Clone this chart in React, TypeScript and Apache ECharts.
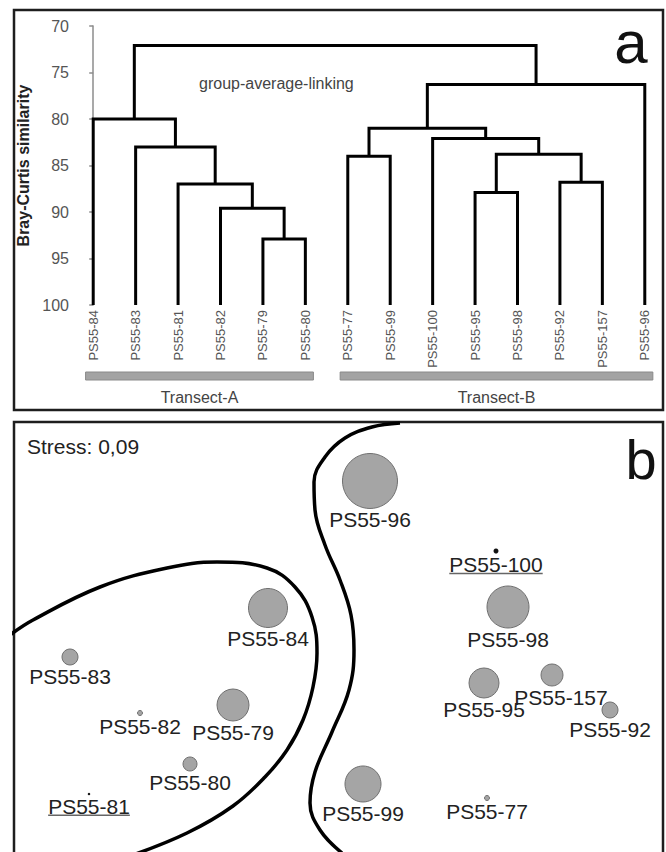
import React, { useEffect, useRef } from "react";
import * as echarts from "echarts";

const FONT = "'Liberation Sans', Arial, Helvetica, sans-serif";

// ---------- Panel a: dendrogram (group-average linking, Bray-Curtis similarity)
const leaves = [
  "PS55-84", "PS55-83", "PS55-81", "PS55-82", "PS55-79", "PS55-80",
  "PS55-77", "PS55-99", "PS55-100", "PS55-95", "PS55-98", "PS55-92", "PS55-157", "PS55-96",
];
// merge i is referred to as "m" + i
const mergeLeft = ["PS55-79", "PS55-82", "PS55-81", "PS55-83", "PS55-84", "PS55-95", "PS55-92", "m5", "PS55-100", "PS55-77", "m9", "m10", "m4"];
const mergeRight = ["PS55-80", "m0", "m1", "m2", "m3", "PS55-98", "PS55-157", "m6", "m7", "PS55-99", "m8", "PS55-96", "m11"];
const mergeSimilarity = [92.9, 89.6, 87.0, 83.0, 80.0, 87.9, 86.8, 83.8, 82.1, 84.0, 81.0, 76.3, 72.1];
const yTicks = { min: 70, max: 100, interval: 5 };
const transectNames = ["Transect-A", "Transect-B"];
const transectFrom = [0, 6];
const transectTo = [5, 13];

// ---------- Panel b: NMDS ordination
const nmdsNames = ["PS55-96", "PS55-100", "PS55-98", "PS55-84", "PS55-83", "PS55-79", "PS55-82", "PS55-80", "PS55-81", "PS55-95", "PS55-157", "PS55-92", "PS55-99", "PS55-77"];
const nmdsX = [0.16, 0.79, 0.85, -0.35, -1.34, -0.525, -0.99, -0.74, -1.245, 0.73, 1.07, 1.36, 0.125, 0.745];
const nmdsY = [0.78, 0.43, 0.15, 0.145, -0.10, -0.34, -0.38, -0.635, -0.785, -0.23, -0.19, -0.365, -0.735, -0.805];
const nmdsSize = [55, 5, 42, 39, 16, 32, 5, 14, 2.5, 30, 22, 16, 36, 5];
const underlinedSites = ["PS55-100", "PS55-81"];
const stressText = "Stress: 0,09";
// group boundaries drawn on the ordination
const boundaryB = [
  [0.31, 1.07], [0.17, 1.05], [0.035, 0.995], [-0.065, 0.9], [-0.12, 0.775], [-0.115, 0.635],
  [-0.065, 0.46], [0.01, 0.285], [0.065, 0.11], [0.08, -0.065], [0.055, -0.265], [-0.03, -0.475],
  [-0.115, -0.675], [-0.14, -0.83], [-0.09, -0.965], [0.02, -1.08],
];
const boundaryA = [
  [-1.64, 0.01], [-1.525, 0.085], [-1.19, 0.25], [-0.855, 0.345], [-0.605, 0.375], [-0.355, 0.345],
  [-0.215, 0.25], [-0.13, 0.1], [-0.105, -0.08], [-0.125, -0.25], [-0.175, -0.415], [-0.255, -0.565],
  [-0.365, -0.7], [-0.525, -0.845], [-0.755, -0.98], [-1.04, -1.095],
];

const labelDx: Record<string, number> = { "PS55-157": 9 };

function buildSegments() {
  const pos: Record<string, [number, number]> = {};
  leaves.forEach((n, i) => (pos[n] = [i, yTicks.max]));
  return mergeLeft.map((a, i) => {
    const pa = pos[a];
    const pb = pos[mergeRight[i]];
    const h = mergeSimilarity[i];
    pos["m" + i] = [(pa[0] + pb[0]) / 2, h];
    return [pa[0], pa[1], pb[0], pb[1], h];
  });
}

let measureCtx: CanvasRenderingContext2D | null = null;
function textWidth(t: string, font: string) {
  if (!measureCtx) measureCtx = document.createElement("canvas").getContext("2d");
  if (!measureCtx) return t.length * 11;
  measureCtx.font = font;
  return measureCtx.measureText(t).width;
}

export default function App() {
  const ref = useRef<HTMLDivElement>(null);
  useEffect(() => {
    if (!ref.current) return;
    const chart = echarts.init(ref.current, undefined, { renderer: "svg" });
    const segs = buildSegments();
    const option: any = {
      animation: false,
      backgroundColor: "#ffffff",
      grid: [
        { left: 72, top: 26, width: 596, height: 279 },
        { left: 14, top: 422, width: 649, height: 429 },
      ],
      xAxis: [
        {
          gridIndex: 0, type: "category", data: leaves, boundaryGap: true,
          axisLine: { show: false }, axisTick: { show: false }, splitLine: { show: false },
          axisLabel: { rotate: 90, margin: 5, fontSize: 13, color: "#555", fontFamily: FONT, interval: 0 },
        },
        { gridIndex: 0, type: "value", min: -0.5, max: 13.5, show: false },
        { gridIndex: 1, type: "value", min: -1.62, max: 1.625, show: false },
      ],
      yAxis: [
        {
          gridIndex: 0, type: "value", inverse: true, min: yTicks.min, max: yTicks.max, interval: yTicks.interval,
          axisLine: { show: true, lineStyle: { color: "#8c8c8c", width: 1.5 } },
          axisTick: { show: true, length: 4, lineStyle: { color: "#8c8c8c", width: 1.5 } },
          axisLabel: { fontSize: 16, color: "#555", margin: 3, fontFamily: FONT },
          splitLine: { show: false },
          name: "Bray-Curtis similarity", nameLocation: "middle", nameGap: 31,
          nameTextStyle: { fontWeight: "bold", fontSize: 16, color: "#222", fontFamily: FONT },
        },
        { gridIndex: 1, type: "value", min: -1.07, max: 1.075, show: false },
      ],
      graphic: [
        { type: "rect", shape: { x: 14, y: 10, width: 649, height: 400 }, style: { fill: null, stroke: "#1e1e1e", lineWidth: 2.5 }, silent: true },
        { type: "rect", shape: { x: 14, y: 422, width: 649, height: 432 }, style: { fill: null, stroke: "#1e1e1e", lineWidth: 2.5 }, silent: true },
        { type: "text", style: { x: 199, y: 83, text: "group-average-linking", fontSize: 16, fontFamily: FONT, fill: "#444", textAlign: "left", textVerticalAlign: "middle", align: "left", verticalAlign: "middle" } },
        { type: "text", style: { x: 631, y: 42, text: "a", fontSize: 60, fontFamily: FONT, fill: "#111", textAlign: "center", textVerticalAlign: "middle", align: "center", verticalAlign: "middle" } },
        { type: "text", style: { x: 641, y: 459, text: "b", fontSize: 56, fontFamily: FONT, fill: "#111", textAlign: "center", textVerticalAlign: "middle", align: "center", verticalAlign: "middle" } },
        { type: "text", style: { x: 27, y: 446, text: stressText, fontSize: 21, fontFamily: FONT, fill: "#222", textAlign: "left", textVerticalAlign: "middle", align: "left", verticalAlign: "middle" } },
      ],
      series: [
        {
          type: "custom", name: "dendrogram", coordinateSystem: "cartesian2d", xAxisIndex: 1, yAxisIndex: 0,
          data: segs, encode: { x: [0, 2], y: [1, 3, 4] }, clip: false, silent: true,
          renderItem: (_p: any, api: any) => {
            const xl = api.value(0), yl = api.value(1), xr = api.value(2), yr = api.value(3), h = api.value(4);
            const pts = [api.coord([xl, yl]), api.coord([xl, h]), api.coord([xr, h]), api.coord([xr, yr])];
            return { type: "polyline", shape: { points: pts }, style: { stroke: "#000", lineWidth: 3, fill: null, lineJoin: "miter" } };
          },
        },
        {
          type: "custom", name: "transects", coordinateSystem: "cartesian2d", xAxisIndex: 1, yAxisIndex: 0,
          data: transectFrom.map((f, i) => [f, transectTo[i]]), encode: { x: [0, 1] }, clip: false, silent: true,
          renderItem: (p: any, api: any) => {
            const a = api.coord([api.value(0) - 0.18, yTicks.max]);
            const b = api.coord([api.value(1) + 0.19, yTicks.max]);
            return {
              type: "group",
              children: [
                { type: "rect", shape: { x: a[0], y: a[1] + 67, width: b[0] - a[0], height: 8 }, style: { fill: "#a3a3a3", stroke: "#8a8a8a", lineWidth: 1 } },
                { type: "text", style: { x: (a[0] + b[0]) / 2, y: a[1] + 92, text: transectNames[p.dataIndex], fontSize: 16, fontFamily: FONT, fill: "#444", textAlign: "center", textVerticalAlign: "middle", align: "center", verticalAlign: "middle" } },
              ],
            };
          },
        },
        {
          type: "line", name: "boundary-B", xAxisIndex: 2, yAxisIndex: 1, data: boundaryB, smooth: 0.4,
          showSymbol: false, symbol: "none", lineStyle: { color: "#000", width: 3.5 }, clip: true, silent: true,
        },
        {
          type: "line", name: "boundary-A", xAxisIndex: 2, yAxisIndex: 1, data: boundaryA, smooth: 0.4,
          showSymbol: false, symbol: "none", lineStyle: { color: "#000", width: 3.5 }, clip: true, silent: true,
        },
        {
          type: "custom", name: "sites", coordinateSystem: "cartesian2d", xAxisIndex: 2, yAxisIndex: 1,
          data: nmdsNames.map((_n, i) => [nmdsX[i], nmdsY[i], nmdsSize[i]]), encode: { x: 0, y: 1 }, clip: false, silent: true,
          renderItem: (p: any, api: any) => {
            const name = nmdsNames[p.dataIndex];
            const c = api.coord([api.value(0), api.value(1)]);
            const r = api.value(2) / 2;
            const dark = underlinedSites.includes(name);
            const lx = c[0] + (labelDx[name] || 0);
            const ly = c[1] + r + 11;
            const children: any[] = [
              { type: "circle", shape: { cx: c[0], cy: c[1], r }, style: { fill: dark ? "#111" : "#a5a5a5", stroke: dark ? null : "#707070", lineWidth: 1 } },
              { type: "text", style: { x: lx, y: ly, text: name, fontSize: 21, fontFamily: FONT, fill: "#222", textAlign: "center", textVerticalAlign: "middle", align: "center", verticalAlign: "middle" } },
            ];
            if (underlinedSites.includes(name)) {
              const w = textWidth(name, "21px 'Liberation Sans'");
              children.push({ type: "line", shape: { x1: lx - w / 2, y1: ly + 9, x2: lx + w / 2, y2: ly + 9 }, style: { stroke: "#666", lineWidth: 1.5 } });
            }
            return { type: "group", children };
          },
        },
      ],
    };
    chart.setOption(option);
    return () => chart.dispose();
  }, []);
  return <div ref={ref} style={{ position: "fixed", left: 0, top: 0, width: 666, height: 852, background: "#fff" }} />;
}
